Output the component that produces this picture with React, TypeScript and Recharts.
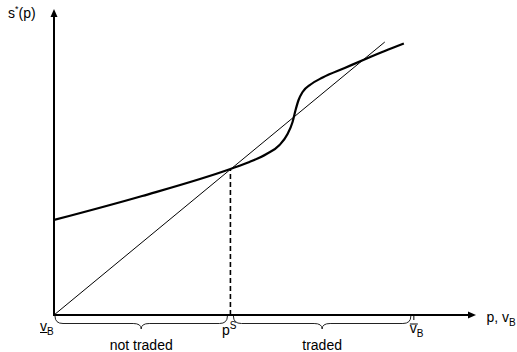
import { ComposedChart, Line, XAxis, YAxis, ReferenceLine, ReferenceDot, ReferenceArea } from 'recharts';

// axis extents (data units, origin at the lower bound of v_B)
const X_MAX = 421;
const Y_MAX = 306;

// s*(p), the thick curve
const curveX = [0, 88, 176, 195, 212, 225, 233, 238, 241, 244, 248, 256, 268, 290, 312, 330, 349];
const curveY = [95, 119, 146, 153, 161, 170, 181, 193, 205, 215, 223, 230.5, 237.5, 247, 256.5, 264, 271.5];

// 45-degree style reference line
const diagX = [0, 330];
const diagY = [0, 273];

const pS = 176;
const pSLevel = 146;
const vBarB = 359;

const braces = [
  { from: 0, to: 174, label: 'not traded' },
  { from: 178, to: 357, label: 'traded' },
];

const curveData = curveX.map((x, i) => ({ x, y: curveY[i] }));
const diagData = diagX.map((x, i) => ({ x, y: diagY[i] }));

const FONT = '"Liberation Sans", Arial, sans-serif';
const INK = '#000';

const Brace = (props: any) => {
  const { x, y, width, label } = props;
  const a = x + 1;
  const b = x + width - 1;
  const m = (a + b) / 2;
  const h = y + 8.5;
  const d = `M${a},${y + 1} Q${a},${h} ${a + 8},${h} L${m - 8},${h} Q${m},${h} ${m},${y + 14} ` +
    `Q${m},${h} ${m + 8},${h} L${b - 8},${h} Q${b},${h} ${b},${y + 1}`;
  return (
    <g>
      <path d={d} fill="none" stroke="#222" strokeWidth={1} />
      <text x={m} y={y + 35} textAnchor="middle" fontSize={14} fontFamily={FONT} fill={INK}>{label}</text>
    </g>
  );
};

export default function App() {
  return (
    <div>
      <style>{'body{margin:0}'}</style>
      <ComposedChart width={517} height={352} data={curveData} margin={{ top: 9, right: 41, left: 54, bottom: 37 }}>
        <XAxis type="number" dataKey="x" domain={[0, X_MAX]} allowDataOverflow hide />
        <YAxis type="number" dataKey="y" domain={[0, Y_MAX]} allowDataOverflow hide />

        {/* axes */}
        <ReferenceLine segment={[{ x: 0, y: 0 }, { x: X_MAX - 4, y: 0 }]} stroke={INK} strokeWidth={2} ifOverflow="visible" />
        <ReferenceLine segment={[{ x: 0, y: -1 }, { x: 0, y: Y_MAX - 4 }]} stroke={INK} strokeWidth={2} ifOverflow="visible" />

        <ReferenceLine segment={[{ x: pS, y: 0 }, { x: pS, y: pSLevel }]} stroke={INK} strokeWidth={1.6} strokeDasharray="5 3" />

        <Line data={diagData} dataKey="y" type="linear" stroke={INK} strokeWidth={1} dot={false} isAnimationActive={false} />
        <Line data={curveData} dataKey="y" type="monotone" stroke={INK} strokeWidth={2.2} dot={false} isAnimationActive={false} />

        {braces.map(br => (
          <ReferenceArea key={br.label} x1={br.from} x2={br.to} y1={0} y2={0} ifOverflow="visible"
            shape={(p: any) => <Brace {...p} label={br.label} />} />
        ))}

        {/* y-axis arrow and name */}
        <ReferenceDot x={0} y={Y_MAX} r={0} ifOverflow="visible" shape={(p: any) => (
          <g>
            <path d={`M${p.cx},${p.cy} L${p.cx - 3.5},${p.cy + 8} L${p.cx + 3.5},${p.cy + 8} Z`} fill={INK} />
            <text x={p.cx - 46} y={p.cy + 9} fontSize={14} fontFamily={FONT} fill={INK}>
              s<tspan dy={-6} fontSize={9}>*</tspan><tspan dy={6}>(p)</tspan>
            </text>
          </g>
        )} />

        {/* x-axis arrow and name */}
        <ReferenceDot x={X_MAX} y={0} r={0} ifOverflow="visible" shape={(p: any) => (
          <g>
            <path d={`M${p.cx},${p.cy} L${p.cx - 8},${p.cy - 3.5} L${p.cx - 8},${p.cy + 3.5} Z`} fill={INK} />
            <text x={p.cx + 10.5} y={p.cy + 7} fontSize={14} fontFamily={FONT} fill={INK}>
              p, v<tspan dy={4} fontSize={10}>B</tspan>
            </text>
          </g>
        )} />

        {/* lower bound v_B at the origin */}
        <ReferenceDot x={0} y={0} r={0} ifOverflow="visible" shape={(p: any) => (
          <g>
            <text x={p.cx - 14} y={p.cy + 16} fontSize={14} fontFamily={FONT} fill={INK}>
              v<tspan dy={4} fontSize={10}>B</tspan>
            </text>
            <line x1={p.cx - 14} x2={p.cx - 6.5} y1={p.cy + 17.5} y2={p.cy + 17.5} stroke={INK} strokeWidth={1} />
          </g>
        )} />

        {/* p^S */}
        <ReferenceDot x={pS} y={0} r={0} ifOverflow="visible" shape={(p: any) => (
          <text x={p.cx - 8.5} y={p.cy + 20} fontSize={14} fontFamily={FONT} fill={INK}>
            p<tspan dy={-6} fontSize={10}>S</tspan>
          </text>
        )} />

        {/* upper bound v_B */}
        <ReferenceDot x={vBarB} y={0} r={0} ifOverflow="visible" shape={(p: any) => (
          <g>
            <line x1={p.cx} x2={p.cx} y1={p.cy} y2={p.cy + 5} stroke={INK} strokeWidth={1} />
            <line x1={p.cx - 4} x2={p.cx + 4} y1={p.cy + 9} y2={p.cy + 9} stroke={INK} strokeWidth={1} />
            <text x={p.cx - 4} y={p.cy + 18} fontSize={14} fontFamily={FONT} fill={INK}>
              v<tspan dy={4} fontSize={10}>B</tspan>
            </text>
          </g>
        )} />
      </ComposedChart>
    </div>
  );
}
